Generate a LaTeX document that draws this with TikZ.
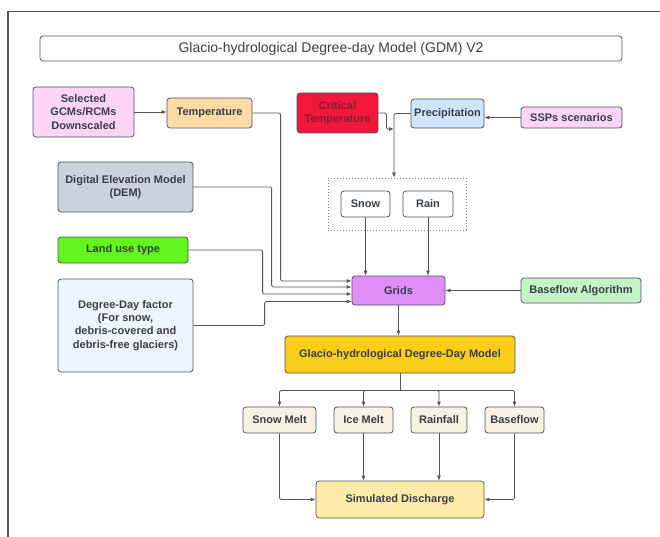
\documentclass[tikz,border=0pt]{standalone}
\usepackage{fontspec}
\setmainfont{Liberation Sans}
\usetikzlibrary{arrows.meta}

\definecolor{linegray}{HTML}{50545F}
\definecolor{txtgray}{HTML}{3A3E49}
\definecolor{gcmpink}{HTML}{FBD4F6}
\definecolor{temporange}{HTML}{FDDBA4}
\definecolor{critred}{HTML}{F2173D}
\definecolor{critdark}{HTML}{8A1C30}
\definecolor{precblue}{HTML}{CFE3FA}
\definecolor{demgray}{HTML}{CBD2DB}
\definecolor{landgreen}{HTML}{63F61C}
\definecolor{ddfblue}{HTML}{EDF4FD}
\definecolor{gridviolet}{HTML}{DD8EF7}
\definecolor{basegreen}{HTML}{C4F3C6}
\definecolor{modelgold}{HTML}{FACD1A}
\definecolor{meltcream}{HTML}{F5F2E2}
\definecolor{disyellow}{HTML}{FFEBA8}

\begin{document}
\begin{tikzpicture}[x=1pt, y=-1pt,
  box/.style={draw=linegray, line width=0.8pt, rounded corners=3pt, inner sep=0pt,
    align=center, text=txtgray, font=\fontsize{11}{13.3}\selectfont\bfseries},
  flow/.style={draw=linegray, line width=0.8pt, rounded corners=2pt,
    -{Latex[length=5pt,width=4pt]}},
  plain/.style={draw=linegray, line width=0.8pt, rounded corners=2pt}
]
  \useasboundingbox (0,0) rectangle (660,537);
  % outer frame
  \draw[line width=1.5pt, linegray] (8,537) -- (8,11.5) -- (660,11.5);

  % title
  \node[box, minimum width=582, minimum height=25, font=\fontsize{14}{16}\selectfont]
    (title) at (331,48.5) {Glacio-hydrological Degree-day Model (GDM) V2};

  % inputs
  \node[box, fill=gcmpink, minimum width=101, minimum height=50] (gcm) at (83.5,112)
    {Selected\\GCMs/RCMs\\Downscaled};
  \node[box, fill=temporange, minimum width=85, minimum height=30] (temp) at (209.5,113) {Temperature};
  \node[box, fill=critred, text=critdark, minimum width=81, minimum height=40] (crit) at (337.5,113)
    {Critical\\Temperature};
  \node[box, fill=precblue, minimum width=73, minimum height=29] (precip) at (447.5,113.5) {Precipitation};
  \node[box, fill=gcmpink, minimum width=101, minimum height=21] (ssp) at (571.5,117.5) {SSPs scenarios};
  \node[box, fill=demgray, minimum width=135, minimum height=50] (dem) at (125.5,187)
    {Digital Elevation Model\\(DEM)};
  \node[box, fill=landgreen, minimum width=130, minimum height=26] (land) at (123,250) {Land use type};
  \node[box, fill=ddfblue, minimum width=135, minimum height=93] (ddf) at (125.5,325.5)
    {Degree-Day factor\\(For snow,\\debris-covered and\\debris-free glaciers)};

  % snow / rain split
  \node[draw=linegray!70, line width=0.7pt, dash pattern=on 1pt off 2pt,
    minimum width=138, minimum height=52, inner sep=0pt] (split) at (397,204) {};
  \node[box, fill=white, minimum width=49, minimum height=26] (snow) at (365.5,204) {Snow};
  \node[box, fill=white, minimum width=50, minimum height=26] (rain) at (428,204) {Rain};

  \node[box, fill=gridviolet, minimum width=93, minimum height=29] (grids) at (398.5,290.5) {Grids};
  \node[box, fill=basegreen, minimum width=120, minimum height=25] (base) at (581,290.5) {Baseflow Algorithm};
  \node[box, fill=modelgold, minimum width=230, minimum height=37] (gddm) at (400,354.5)
    {Glacio-hydrological Degree-Day Model};

  % outputs
  \node[box, fill=meltcream, minimum width=73, minimum height=26] (smelt) at (279.5,420) {Snow Melt};
  \node[box, fill=meltcream, minimum width=59, minimum height=26] (imelt) at (363.5,420) {Ice Melt};
  \node[box, fill=meltcream, minimum width=56, minimum height=26] (rainfall) at (439,420) {Rainfall};
  \node[box, fill=meltcream, minimum width=59, minimum height=26] (bflow) at (514.5,420) {Baseflow};
  \node[box, fill=disyellow, minimum width=168, minimum height=37] (sd) at (400,499.5) {Simulated Discharge};

  % connectors
  \draw[flow] (gcm.east) -- (gcm.east -| temp.west);
  \draw[flow] (ssp.west) -- (ssp.west -| precip.east);
  \draw[flow] (precip.west) -| ([xshift=-3pt]split.north);
  \coordinate (join) at (394,129);
  \draw[flow] (crit.east) -- ++(8,0) |- (join);
  \draw[flow] (temp.east) -| ([xshift=-71pt,yshift=9.5pt]grids.west) -- ([yshift=9.5pt]grids.west);
  \draw[flow] (dem.east) -| ([xshift=-80pt,yshift=3.5pt]grids.west) -- ([yshift=3.5pt]grids.west);
  \draw[flow] (land.east) -| ([xshift=-89pt,yshift=-3.5pt]grids.west) -- ([yshift=-3.5pt]grids.west);
  \draw[flow] (ddf.east) -| ([xshift=-87pt,yshift=-11pt]grids.west) -- ([yshift=-11pt]grids.west);
  \draw[flow] (snow.south) -- (snow.south |- grids.north);
  \draw[flow] (rain.south) -- (rain.south |- grids.north);
  \draw[flow] (base.west) -- (grids.east);
  \draw[flow] (grids.south) -- (grids.south |- gddm.north);

  \draw[plain] (gddm.south) -- ++(0,17) coordinate (fork);
  \foreach \out in {smelt,imelt,rainfall,bflow}
    \draw[flow] (fork) -| (\out.north);

  \draw[flow] (smelt.south) |- (sd.west);
  \draw[flow] (imelt.south) -- (imelt.south |- sd.north);
  \draw[flow] (rainfall.south) -- (rainfall.south |- sd.north);
  \draw[flow] (bflow.south) |- (sd.east);
\end{tikzpicture}
\end{document}
